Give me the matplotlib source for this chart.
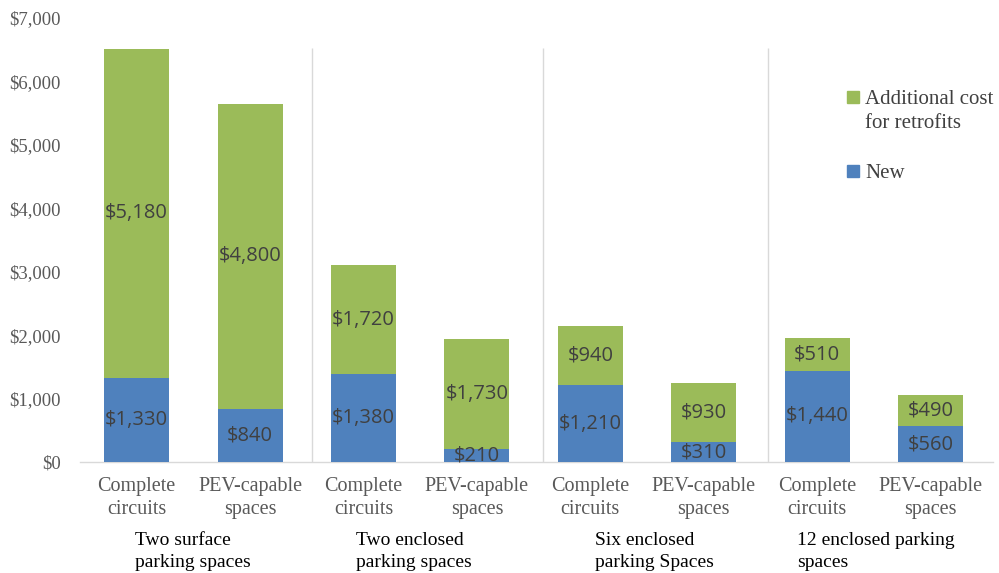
import numpy as np
import matplotlib
matplotlib.use("Agg")
import matplotlib.pyplot as plt
from matplotlib.patches import Rectangle
from matplotlib.transforms import blended_transform_factory

# ---- data ----
bar_labels = ["Complete\ncircuits", "PEV-capable\nspaces"] * 4
group_labels = [
    "Two surface\nparking spaces",
    "Two enclosed\nparking spaces",
    "Six enclosed\nparking Spaces",
    "12 enclosed parking\nspaces",
]
new_cost = [1330, 840, 1380, 210, 1210, 310, 1440, 560]
retrofit_cost = [5180, 4800, 1720, 1730, 940, 930, 510, 490]
yticks = [0, 1000, 2000, 3000, 4000, 5000, 6000, 7000]
legend_labels = ["Additional cost\nfor retrofits", "New"]

# layout bits (positions, not data)
group_label_x = [-0.01, 1.93, 4.04, 5.82]
separator_x = [1.55, 3.58, 5.57]

BLUE = "#4F81BD"
GREEN = "#9BBB59"
GRAY_TXT = "#595959"
LABEL_TXT = "#404040"

fig = plt.figure(figsize=(9.99, 5.73), dpi=100)
ax = fig.add_axes([0.08, 0.1937, 0.914, 0.7749])

x = np.arange(len(new_cost))
width = 0.573
ax.bar(x, new_cost, width, color=BLUE, zorder=3)
ax.bar(x, retrofit_cost, width, bottom=new_cost, color=GREEN, zorder=3)

# segment labels
for xi, n, r in zip(x, new_cost, retrofit_cost):
    ax.text(xi, n / 2, f"${n:,}", ha="center", va="center",
            fontsize=14.5, color=LABEL_TXT, family="Open Sans", zorder=4)
    ax.text(xi, n + r / 2, f"${r:,}", ha="center", va="center",
            fontsize=14.5, color=LABEL_TXT, family="Open Sans", zorder=4)

# group separators
ax.vlines(separator_x, 0, 6530, color="#d9d9d9", lw=1, zorder=1)

ax.set_xlim(-0.5, 7.55)
ax.set_ylim(0, 7000)
ax.set_yticks(yticks)
ax.set_yticklabels([f"${v:,}" for v in yticks], family="Liberation Serif",
                   fontsize=13.5, color=GRAY_TXT)
ax.set_xticks(x)
ax.set_xticklabels(bar_labels, family="Liberation Serif", fontsize=14.5,
                   color=GRAY_TXT, linespacing=1.3)
ax.tick_params(axis="both", length=0)
ax.tick_params(axis="x", pad=11)
ax.tick_params(axis="y", pad=14)

for side in ["top", "right", "left"]:
    ax.spines[side].set_visible(False)
ax.spines["bottom"].set_color("#d9d9d9")
ax.spines["bottom"].set_linewidth(1)

trans = blended_transform_factory(ax.transData, ax.transAxes)
for gx, gl in zip(group_label_x, group_labels):
    ax.text(gx, -0.157, gl, transform=trans, ha="left", va="top",
            fontsize=14, color="black", family="Liberation Serif",
            linespacing=1.4, clip_on=False)

# legend drawn by hand so the swatch sits on the first text line
legend_colors = [GREEN, BLUE]
legend_y = [0.822, 0.6554]
for lab, col, ly in zip(legend_labels, legend_colors, legend_y):
    ax.add_patch(Rectangle((0.840, ly - 0.0135), 0.0131, 0.027,
                           transform=ax.transAxes, color=col, clip_on=False))
    ax.text(0.860, ly + 0.015, lab, transform=ax.transAxes, ha="left",
            va="top", fontsize=15, color=LABEL_TXT, family="Liberation Serif",
            linespacing=1.3)

fig.savefig("out.png", dpi=100)
